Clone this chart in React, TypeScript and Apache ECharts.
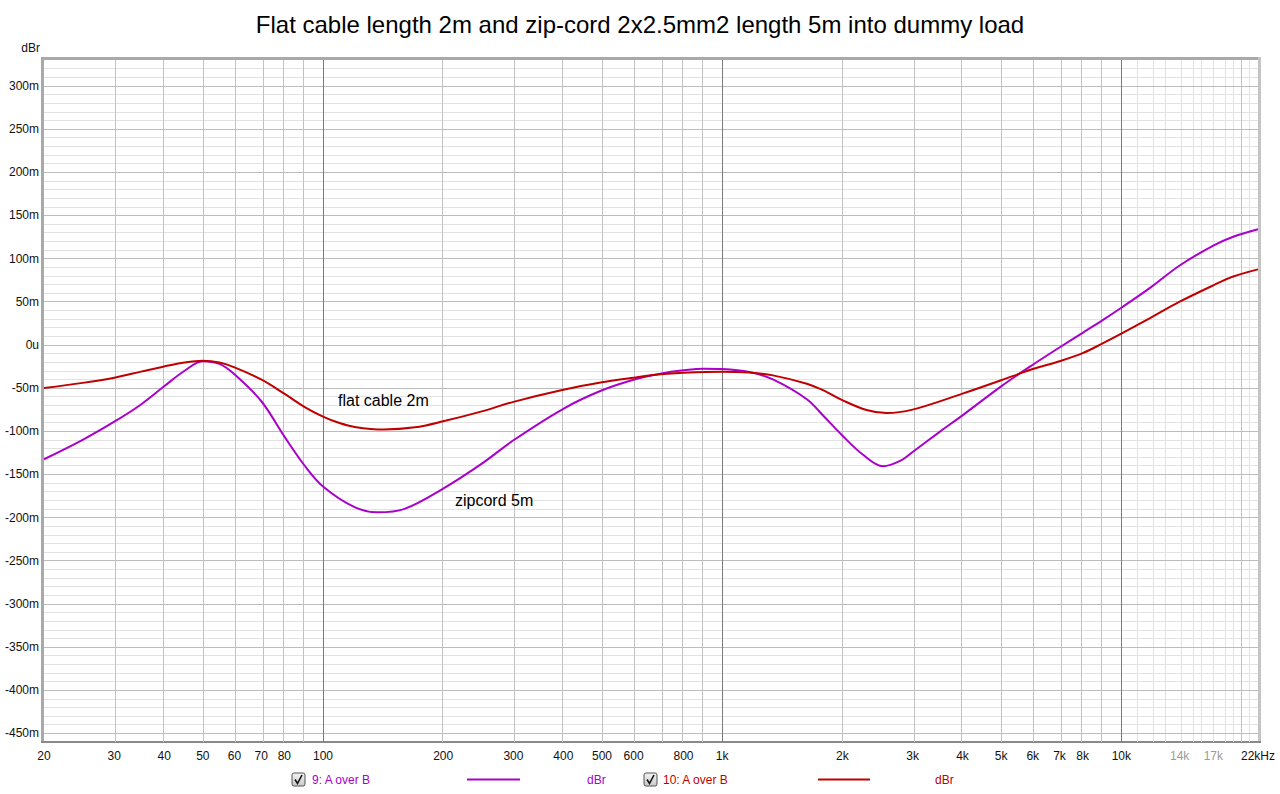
import React, { useEffect, useRef } from "react";
import * as echarts from "echarts";

const TITLE = "Flat cable length 2m and zip-cord 2x2.5mm2 length 5m into dummy load";

// zipcord 5m (purple) – frequency in Hz, level in mdBr
const FREQ_ZIP = [20, 25, 30, 35, 40, 45, 50, 55, 60, 70, 80, 90, 100, 120, 137, 160, 200, 250, 300, 400, 500, 600, 700, 800, 900, 1000, 1170, 1340, 1630, 1800, 2000, 2250, 2530, 2800, 3000, 3500, 4000, 5000, 6000, 7000, 8000, 9000, 10000, 11800, 14000, 17000, 19000, 22000];
const VAL_ZIP = [-132.5, -110, -89, -69, -48, -30, -19, -22, -34, -65, -106, -140, -164, -188, -194, -190, -166.5, -137.6, -110.5, -74, -52.6, -40.3, -33.4, -29.5, -27.6, -28, -31.5, -40, -63, -83, -105, -127, -140.5, -134, -124, -101, -81.6, -48, -23, -3, 14, 29, 43, 66, 92, 115, 125, 134];

// flat cable 2m (red)
const FREQ_FLAT = [20, 25, 30, 35, 40, 45, 50, 55, 60, 70, 80, 90, 100, 110, 120, 142, 170, 200, 250, 300, 400, 500, 600, 700, 800, 1000, 1170, 1340, 1630, 1800, 2000, 2300, 2580, 3000, 4000, 5000, 6000, 7000, 8000, 9000, 10000, 11800, 14000, 17000, 19000, 22000];
const VAL_FLAT = [-50, -44, -38, -31, -25, -20.5, -18.5, -20.5, -26, -40, -56.5, -72, -83, -90.5, -95, -98, -95.5, -88.5, -77, -66, -52, -43.4, -38, -34, -32.2, -31, -32, -35.3, -45, -53, -64, -75.5, -79, -75, -56.5, -41, -28, -19, -9.6, 2, 13, 31, 50, 69, 79, 87.5];

const X_LABEL_FREQS = [20, 30, 40, 50, 60, 70, 80, 100, 200, 300, 400, 500, 600, 800, 1000, 2000, 3000, 4000, 5000, 6000, 7000, 8000, 10000, 14000, 17000, 22000];
const X_LABEL_GRAY = [14000, 17000];
const Y_LABEL_VALUES = [-450, -400, -350, -300, -250, -200, -150, -100, -50, 0, 50, 100, 150, 200, 250, 300];

const X_GRID_FINE = [11000, 12000, 13000, 14000, 15000, 16000, 17000, 18000, 19000, 21000];
const X_GRID_MID = [30, 40, 50, 60, 70, 80, 90, 200, 300, 400, 500, 600, 700, 800, 900, 2000, 3000, 4000, 5000, 6000, 7000, 8000, 9000, 20000];
const X_GRID_DECADE = [100, 1000, 10000];

const F_MIN = 20;
const F_MAX = 22000;
const Y_MIN = -460;
const Y_MAX = 330;

const PURPLE = "#AA00CC";
const RED = "#C00000";

function fmtFreq(f: number): string {
  if (f === 22000) return "22kHz";
  if (f >= 1000) return f / 1000 + "k";
  return String(f);
}

function nearestLabelFreq(v: number): number {
  const f = Math.pow(10, v);
  let best = X_LABEL_FREQS[0];
  let bd = Infinity;
  for (const c of X_LABEL_FREQS) {
    const d = Math.abs(Math.log10(c) - Math.log10(f));
    if (d < bd) {
      bd = d;
      best = c;
    }
  }
  return best;
}

function checkbox(x: number, y: number) {
  return {
    type: "group",
    x,
    y,
    children: [
      {
        type: "rect",
        shape: { x: 0, y: 0, width: 13, height: 13, r: 2 },
        style: {
          fill: new echarts.graphic.LinearGradient(0, 0, 0, 1, [
            { offset: 0, color: "#f4f4f4" },
            { offset: 1, color: "#c8c8c8" },
          ]),
          stroke: "#555",
          lineWidth: 1,
        },
      },
      {
        type: "polyline",
        shape: { points: [[3, 6.5], [5.5, 10.5], [10, 2]] },
        style: { stroke: "#111", lineWidth: 1.6, fill: null },
      },
    ],
  };
}

export default function App() {
  const ref = useRef<HTMLDivElement>(null);

  useEffect(() => {
    if (!ref.current) return;
    const chart = echarts.init(ref.current, undefined, { renderer: "svg" });

    const gridLines: any[] = [];
    for (let v = Y_MIN + 10; v < Y_MAX; v += 10) {
      if (v % 50 !== 0) gridLines.push({ yAxis: v, lineStyle: { color: "#e2e2e2", width: 1, type: "solid" } });
    }
    for (const f of X_GRID_FINE) gridLines.push({ xAxis: Math.log10(f), lineStyle: { color: "#e2e2e2", width: 1, type: "solid" } });
    for (let v = Y_MIN + 10; v < Y_MAX; v += 10) {
      if (v % 50 === 0) gridLines.push({ yAxis: v, lineStyle: { color: "#bcbcbc", width: 1, type: "solid" } });
    }
    for (const f of X_GRID_MID) gridLines.push({ xAxis: Math.log10(f), lineStyle: { color: "#c2c2c2", width: 1, type: "solid" } });
    for (const f of X_GRID_DECADE) gridLines.push({ xAxis: Math.log10(f), lineStyle: { color: "#7a7a7a", width: 1, type: "solid" } });

    const zipData = FREQ_ZIP.map((f, i) => [Math.log10(f), VAL_ZIP[i]]);
    const flatData = FREQ_FLAT.map((f, i) => [Math.log10(f), VAL_FLAT[i]]);

    const labelFont = { fontFamily: "Liberation Sans, Arial, sans-serif", fontSize: 12, color: "#111" };

    chart.setOption({
      animation: false,
      backgroundColor: "#ffffff",
      title: {
        text: TITLE,
        left: "center",
        top: 7,
        textStyle: { fontFamily: "Liberation Sans, Arial, sans-serif", fontSize: 24, fontWeight: "normal", color: "#000" },
      },
      grid: { left: 44, right: 22, top: 60, bottom: 52, show: false },
      xAxis: {
        type: "value",
        min: Math.log10(F_MIN),
        max: Math.log10(F_MAX),
        axisLine: { show: false },
        axisTick: { show: false },
        splitLine: { show: false },
        axisLabel: {
          ...labelFont,
          margin: 8,
          customValues: X_LABEL_FREQS.map((f) => Math.log10(f)),
          formatter: (v: number) => {
            const f = nearestLabelFreq(v);
            const t = fmtFreq(f);
            return X_LABEL_GRAY.includes(f) ? "{g|" + t + "}" : t;
          },
          rich: { g: { color: "#9a9a9a", fontSize: 12, fontFamily: "Liberation Sans, Arial, sans-serif" } },
        },
      },
      yAxis: {
        type: "value",
        min: Y_MIN,
        max: Y_MAX,
        axisLine: { show: false },
        axisTick: { show: false },
        splitLine: { show: false },
        axisLabel: {
          ...labelFont,
          margin: 5,
          customValues: Y_LABEL_VALUES,
          formatter: (v: number) => (v === 0 ? "0u" : v + "m"),
        },
      },
      graphic: [
        { type: "rect", shape: { x: 41, y: 57, width: 1220, height: 3 }, style: { fill: "#a9a9a9" }, silent: true },
        { type: "rect", shape: { x: 41, y: 57, width: 3, height: 686 }, style: { fill: "#a9a9a9" }, silent: true },
        { type: "rect", shape: { x: 1258, y: 57, width: 3, height: 686 }, style: { fill: "#c4c4c4" }, silent: true },
        { type: "rect", shape: { x: 41, y: 741, width: 1220, height: 2 }, style: { fill: "#8a8a8a" }, silent: true },
        {
          type: "text",
          x: 40,
          y: 48,
          style: { text: "dBr", fill: "#111", font: "12px 'Liberation Sans', Arial, sans-serif", align: "right", verticalAlign: "middle" },
        },
        {
          type: "text",
          x: 338,
          y: 400,
          z: 10,
          style: { text: "flat cable 2m", fill: "#000", font: "16px 'Liberation Sans', Arial, sans-serif", verticalAlign: "middle" },
        },
        {
          type: "text",
          x: 455,
          y: 500,
          z: 10,
          style: { text: "zipcord 5m", fill: "#000", font: "16px 'Liberation Sans', Arial, sans-serif", verticalAlign: "middle" },
        },
        checkbox(292, 773),
        {
          type: "text",
          x: 312,
          y: 780,
          style: { text: "9: A over B", fill: PURPLE, font: "12px 'Liberation Sans', Arial, sans-serif", verticalAlign: "middle" },
        },
        { type: "line", shape: { x1: 467, y1: 779.5, x2: 520, y2: 779.5 }, style: { stroke: PURPLE, lineWidth: 2 } },
        {
          type: "text",
          x: 587,
          y: 780,
          style: { text: "dBr", fill: PURPLE, font: "12px 'Liberation Sans', Arial, sans-serif", verticalAlign: "middle" },
        },
        checkbox(644, 773),
        {
          type: "text",
          x: 663,
          y: 780,
          style: { text: "10: A over B", fill: RED, font: "12px 'Liberation Sans', Arial, sans-serif", verticalAlign: "middle" },
        },
        { type: "line", shape: { x1: 818, y1: 779.5, x2: 870, y2: 779.5 }, style: { stroke: RED, lineWidth: 2 } },
        {
          type: "text",
          x: 935,
          y: 780,
          style: { text: "dBr", fill: RED, font: "12px 'Liberation Sans', Arial, sans-serif", verticalAlign: "middle" },
        },
      ],
      series: [
        {
          type: "line",
          name: "grid",
          data: [[Math.log10(F_MIN), Y_MIN]],
          showSymbol: false,
          lineStyle: { opacity: 0 },
          silent: true,
          z: 1,
          markLine: {
            silent: true,
            symbol: ["none", "none"],
            label: { show: false },
            emphasis: { disabled: true },
            animation: false,
            data: gridLines,
          },
        },
        {
          type: "line",
          name: "9: A over B",
          data: zipData,
          smooth: 0.35,
          showSymbol: false,
          z: 5,
          lineStyle: { color: PURPLE, width: 2 },
          itemStyle: { color: PURPLE },
        },
        {
          type: "line",
          name: "10: A over B",
          data: flatData,
          smooth: 0.35,
          showSymbol: false,
          z: 6,
          lineStyle: { color: RED, width: 2 },
          itemStyle: { color: RED },
        },
      ],
    });

    return () => {
      chart.dispose();
    };
  }, []);

  return (
    <div
      ref={ref}
      style={{ position: "absolute", left: 0, top: 0, width: 1280, height: 794, background: "#fff" }}
    />
  );
}
